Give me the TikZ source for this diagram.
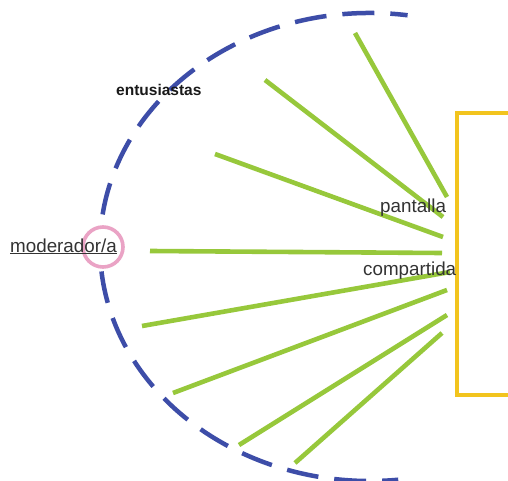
\documentclass[tikz,border=0pt]{standalone}
\usepackage{fontspec}
\setmainfont{Liberation Sans}
\usepackage{xcolor}
\usepackage{tikz}
\usetikzlibrary{calc,positioning}
\definecolor{ringblue}{HTML}{3D4DA8}
\definecolor{spokegreen}{HTML}{97C83B}
\definecolor{screenyellow}{HTML}{F2C41E}
\definecolor{ringpink}{HTML}{EAA3C5}
\definecolor{ink}{HTML}{333333}
\newcommand{\Lbl}{\fontsize{18.8}{22}\selectfont}
\newcommand{\Small}{\fontsize{15.5}{18}\selectfont}

\begin{document}
\begin{tikzpicture}[x=1pt,y=1pt,
    spoke/.style={draw=spokegreen, line width=4.6pt},
    ring/.style={draw=ringblue, line width=4.5pt, dash pattern=on 32pt off 16pt},
    lbl/.style={anchor=base west, inner sep=0pt, text=ink, font=\Lbl}]
  \clip (0,0) rectangle (508,480);
  \fill[white] (0,0) rectangle (508,480);
  % shared screen
  \draw[screenyellow, line width=4.5pt] (540,367) -- (457,367) -- (457,85) -- (540,85);
  % circle of participants, open at the moderator
  \coordinate (ringc) at (370,233);
  \draw[ring] (ringc) ++(172:270 and 234) arc[start angle=172, end angle=82, x radius=270, y radius=234];
  \draw[ring] (ringc) ++(186:270 and 234) arc[start angle=186, end angle=276, x radius=270, y radius=234];
  \node[draw=ringpink, line width=3.6pt, circle, minimum size=40pt, inner sep=0pt] (modring) at (103,233) {};
  % lines of sight to the screen
  \foreach \i/\sx/\sy/\ex/\ey in {1/355/447/447/283, 2/265/400/443/263, 3/215/326/443/243,
                                  4/150/229/442/227, 5/142/154/450/208, 6/173/87/447/190,
                                  7/239/35/447/165, 8/295/17/442/147}{
    \coordinate (s\i) at (\sx,\sy);
    \coordinate (e\i) at (\ex,\ey);
    \draw[spoke] (s\i) -- (e\i);
  }
  \node[lbl, text=black!90, font=\Small\bfseries] (entus) at (116,384) {entusiastas};
  \node[lbl] (moder) at (10,228) {\underline{moderador/a}};
  \node[lbl] (pant) at (380,268) {pantalla};
  \node[lbl] (compart) at (363,205) {compartida};
\end{tikzpicture}
\end{document}
